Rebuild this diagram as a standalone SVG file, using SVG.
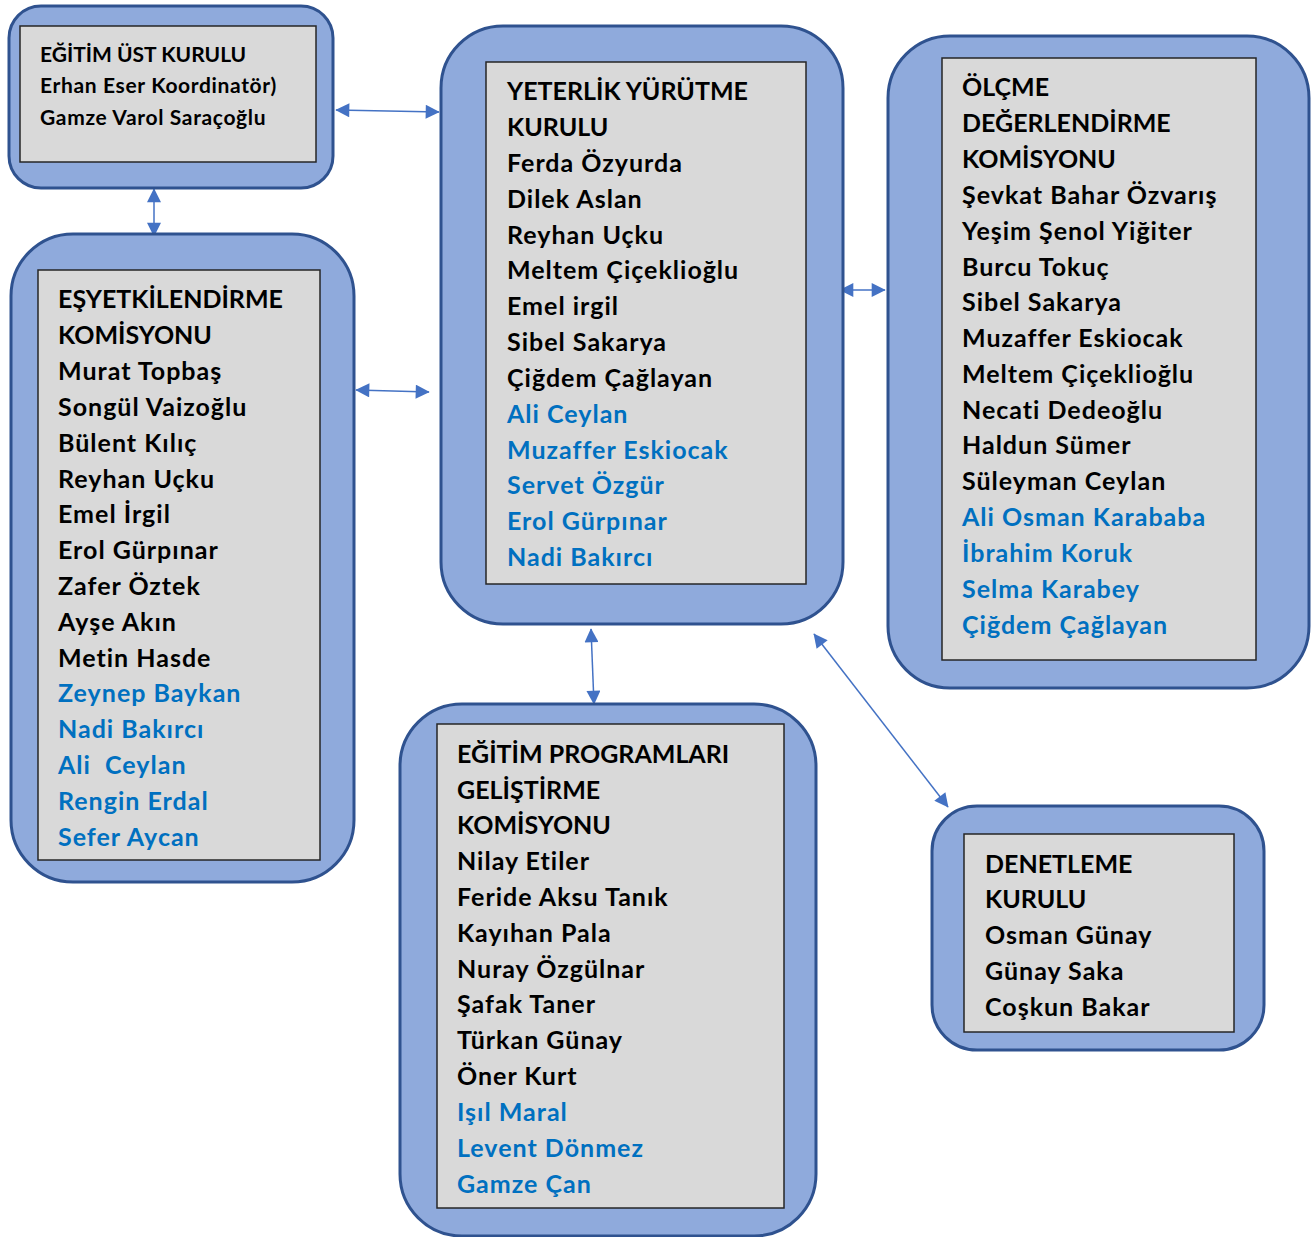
<svg xmlns="http://www.w3.org/2000/svg" width="1316" height="1237" viewBox="0 0 1316 1237">
<defs>
<style>
.outer{fill:#8FAADC;stroke:#2F528F;stroke-width:3}
.inner{fill:#D9D9D9;stroke:#262626;stroke-width:1.5}
text{font-family:Lato,"Liberation Sans",sans-serif;font-weight:700;fill:#000;font-variant-ligatures:none;letter-spacing:1px}
.big{font-size:25px}
.small{font-size:21px}
.small text{letter-spacing:0.65px}
text.t{letter-spacing:0}
.b{fill:#0070C0}
.con{stroke:#4472C4;stroke-width:1.5;fill:none;marker-start:url(#ah);marker-end:url(#ah)}
</style>
<marker id="ah" viewBox="0 0 10 10" refX="9.5" refY="5" markerWidth="15" markerHeight="14" markerUnits="userSpaceOnUse" orient="auto-start-reverse">
<path d="M0,0 L10,5 L0,10 z" fill="#4472C4"/>
</marker>
</defs>
<rect width="1316" height="1237" fill="#fff"/>
<g id="connectors">
<line class="con" x1="336" y1="110" x2="439" y2="112"/>
<line class="con" x1="154" y1="189" x2="154" y2="236"/>
<line class="con" x1="356" y1="390" x2="429" y2="392"/>
<line class="con" x1="840" y1="290" x2="885" y2="290"/>
<line class="con" x1="591" y1="629" x2="594" y2="704"/>
<line class="con" x1="814" y1="634" x2="948" y2="807"/>
</g>
<g id="egitim-ust-kurulu">
<rect class="outer" x="9" y="6" width="324" height="182" rx="32"/>
<rect class="inner" x="20" y="26" width="296" height="136"/>
<g class="small">
<text class="t" x="40" y="62">EĞİTİM ÜST KURULU</text>
<text x="40" y="93">Erhan Eser Koordinatör)</text>
<text x="40" y="125">Gamze Varol Saraçoğlu</text>
</g>
</g>
<g id="yeterlik">
<rect class="outer" x="441" y="26" width="402" height="598" rx="62"/>
<rect class="inner" x="486" y="62" width="320" height="522"/>
<g class="big">
<text class="t" x="507" y="100">YETERLİK YÜRÜTME</text>
<text class="t" x="507" y="136">KURULU</text>
<text x="507" y="172">Ferda Özyurda</text>
<text x="507" y="208">Dilek Aslan</text>
<text x="507" y="244">Reyhan Uçku</text>
<text x="507" y="279">Meltem Çiçeklioğlu</text>
<text x="507" y="315">Emel irgil</text>
<text x="507" y="351">Sibel Sakarya</text>
<text x="507" y="387">Çiğdem Çağlayan</text>
<text class="b" x="507" y="423">Ali Ceylan</text>
<text class="b" x="507" y="459">Muzaffer Eskiocak</text>
<text class="b" x="507" y="494">Servet Özgür</text>
<text class="b" x="507" y="530">Erol Gürpınar</text>
<text class="b" x="507" y="566">Nadi Bakırcı</text>
</g>
</g>
<g id="olcme">
<rect class="outer" x="888" y="36" width="421" height="652" rx="62"/>
<rect class="inner" x="942" y="58" width="314" height="602"/>
<g class="big">
<text class="t" x="962" y="96">ÖLÇME</text>
<text class="t" x="962" y="132">DEĞERLENDİRME</text>
<text class="t" x="962" y="168">KOMİSYONU</text>
<text x="962" y="204">Şevkat Bahar Özvarış</text>
<text x="962" y="240">Yeşim Şenol Yiğiter</text>
<text x="962" y="276">Burcu Tokuç</text>
<text x="962" y="311">Sibel Sakarya</text>
<text x="962" y="347">Muzaffer Eskiocak</text>
<text x="962" y="383">Meltem Çiçeklioğlu</text>
<text x="962" y="419">Necati Dedeoğlu</text>
<text x="962" y="454">Haldun Sümer</text>
<text x="962" y="490">Süleyman Ceylan</text>
<text class="b" x="962" y="526">Ali Osman Karababa</text>
<text class="b" x="962" y="562">İbrahim Koruk</text>
<text class="b" x="962" y="598">Selma Karabey</text>
<text class="b" x="962" y="634">Çiğdem Çağlayan</text>
</g>
</g>
<g id="esyetkilendirme">
<rect class="outer" x="11" y="234" width="343" height="648" rx="62"/>
<rect class="inner" x="38" y="270" width="282" height="590"/>
<g class="big">
<text class="t" x="58" y="308">EŞYETKİLENDİRME</text>
<text class="t" x="58" y="344">KOMİSYONU</text>
<text x="58" y="380">Murat Topbaş</text>
<text x="58" y="416">Songül Vaizoğlu</text>
<text x="58" y="452">Bülent Kılıç</text>
<text x="58" y="488">Reyhan Uçku</text>
<text x="58" y="523">Emel İrgil</text>
<text x="58" y="559">Erol Gürpınar</text>
<text x="58" y="595">Zafer Öztek</text>
<text x="58" y="631">Ayşe Akın</text>
<text x="58" y="667">Metin Hasde</text>
<text class="b" x="58" y="702">Zeynep Baykan</text>
<text class="b" x="58" y="738">Nadi Bakırcı</text>
<text class="b" x="58" y="774" xml:space="preserve">Ali  Ceylan</text>
<text class="b" x="58" y="810">Rengin Erdal</text>
<text class="b" x="58" y="846">Sefer Aycan</text>
</g>
</g>
<g id="egitim-programlari">
<rect class="outer" x="400" y="704" width="416" height="532" rx="62"/>
<rect class="inner" x="437" y="724" width="347" height="484"/>
<g class="big">
<text class="t" x="457" y="763">EĞİTİM PROGRAMLARI</text>
<text class="t" x="457" y="799">GELİŞTİRME</text>
<text class="t" x="457" y="834">KOMİSYONU</text>
<text x="457" y="870">Nilay Etiler</text>
<text x="457" y="906">Feride Aksu Tanık</text>
<text x="457" y="942">Kayıhan Pala</text>
<text x="457" y="978">Nuray Özgülnar</text>
<text x="457" y="1013">Şafak Taner</text>
<text x="457" y="1049">Türkan Günay</text>
<text x="457" y="1085">Öner Kurt</text>
<text class="b" x="457" y="1121">Işıl Maral</text>
<text class="b" x="457" y="1157">Levent Dönmez</text>
<text class="b" x="457" y="1193">Gamze Çan</text>
</g>
</g>
<g id="denetleme">
<rect class="outer" x="932" y="806" width="332" height="244" rx="45"/>
<rect class="inner" x="964" y="834" width="270" height="198"/>
<g class="big">
<text class="t" x="985" y="873">DENETLEME</text>
<text class="t" x="985" y="908">KURULU</text>
<text x="985" y="944">Osman Günay</text>
<text x="985" y="980">Günay Saka</text>
<text x="985" y="1016">Coşkun Bakar</text>
</g>
</g>
</svg>
